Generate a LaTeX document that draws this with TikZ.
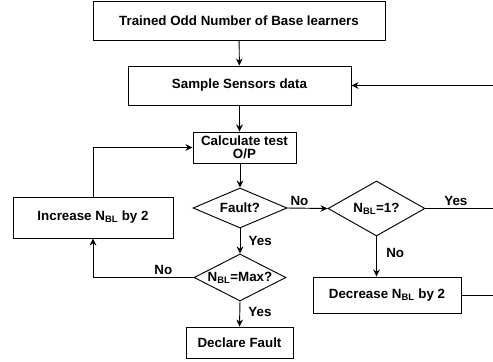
\documentclass[tikz,border=0pt]{standalone}
\usepackage{fontspec}
\setmainfont{Liberation Sans}
\usetikzlibrary{arrows.meta, shapes.geometric, positioning}
\tikzset{
  box/.style={draw, line width=0.8pt, inner sep=0pt, align=center},
  dmd/.style={draw, diamond, line width=0.8pt, inner sep=0pt},
  lbl/.style={inner sep=2pt}
}
\newcommand{\nbl}{N\textsubscript{BL}}

\begin{document}
\begin{tikzpicture}[x=0.03cm, y=-0.03cm, line width=0.8pt,
    font=\fontsize{11.4}{11.5}\selectfont\bfseries,
    >={Stealth[length=2.1mm, width=2mm]}]
    \useasboundingbox (0,0) rectangle (493,362);
    % process boxes
    \node[box, minimum width=8.76cm, minimum height=1.17cm] (train) at (239,20.5) {Trained Odd Number of Base learners};
    \node[box, minimum width=6.69cm, minimum height=1.17cm] (sample) at (239.5,85.5) {Sample Sensors data};
    \node[box, minimum width=3.09cm, minimum height=0.93cm] (calc) at (244.5,147.5) {Calculate test\\O/P};
    \node[box, minimum width=4.8cm, minimum height=1.23cm] (inc) at (93,217.5) {Increase \nbl{} by 2};
    \node[box, minimum width=4.44cm, minimum height=1.08cm] (dec) at (387,295) {Decrease \nbl{} by 2};
    \node[box, minimum width=3.21cm, minimum height=0.93cm] (declare) at (239.5,342.5) {Declare Fault};
    % decisions
    \node[dmd, minimum width=2.82cm, minimum height=1.2cm] (fault) at (240,208) {\makebox[0pt]{Fault?}};
    \node[dmd, minimum width=2.91cm, minimum height=1.65cm] (one) at (376.5,208.5) {\makebox[0pt]{\nbl=1?}};
    \node[dmd, minimum width=2.76cm, minimum height=1.41cm] (max) at (240,277.5) {\makebox[0pt]{\nbl=Max?}};
    % loose ends at the right border
    \coordinate (sampR) at (493,85.5);
    \coordinate (oneR) at (493,208.5);
    \coordinate (decR) at (493,295);

    \draw[->] (train) -- (sample);
    \draw[->] (sample.south) -- (sample.south |- calc.north);
    \draw[->] (fault.north |- calc.south) -- (fault.north);
    \draw[->] (sampR) -- (sample.east);
    \draw[->] (fault.east) -- node[lbl, above, pos=0.3] {No} (one.west);
    \draw (one.east) -- node[lbl, above, pos=0.45] {Yes} (oneR);
    \draw[->] (one.south) -- node[lbl, right, pos=0.4, xshift=6pt] {No} (one.south |- dec.north);
    \draw (dec.east) -- (decR);
    \draw[->] (fault.south) -- node[lbl, right, xshift=5pt] {Yes} (max.north);
    \draw[->] (max.south) -- node[lbl, right, pos=0.4, xshift=5pt] {Yes} (declare.north);
    \draw[->] (max.west) -- node[lbl, above, pos=0.3] {No} (max.west -| inc.south) -- (inc.south);
    \draw[->] (inc.north) |- (calc.west);
\end{tikzpicture}
\end{document}
